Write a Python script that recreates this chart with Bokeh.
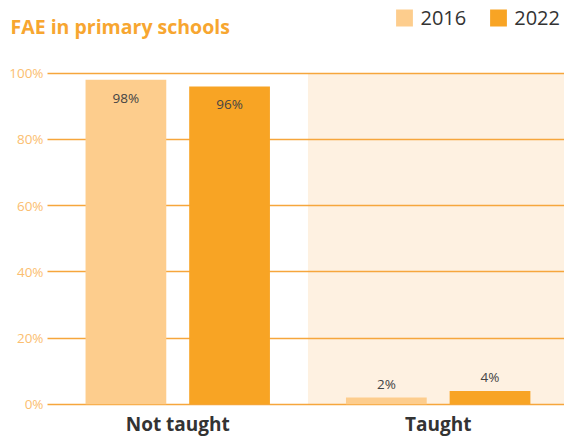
from bokeh.plotting import figure
from bokeh.models import Range1d, FixedTicker, ColumnDataSource, Legend, LegendItem
from bokeh.core.properties import value
from bokeh.embed import file_html
from bokeh.resources import INLINE

title = "FAE in primary schools"
categories = ["Not taught", "Taught"]
years = ["2016", "2022"]
values_2016 = [98, 2]
values_2022 = [96, 4]
y_ticks = [0, 20, 40, 60, 80, 100]
y_tick_labels = ["0%", "20%", "40%", "60%", "80%", "100%"]

C_LIGHT = "#FDCD8D"
C_DARK = "#F8A424"
C_SHADE = "#FEF1E1"
C_GRID = "#F6A63C"
C_TICK = "#FBBE70"
C_TITLE = "#F7A630"
C_TEXT = "#333333"
FONT = "Open Sans"

X_START, X_END = -0.1805, 1.985
Y_START, Y_TOP = -1.6, 121.96

p = figure(width=564, height=439, output_backend="svg", toolbar_location=None,
           x_range=Range1d(X_START, X_END), y_range=Range1d(Y_START, Y_TOP),
           min_border_left=0, min_border_right=0, min_border_top=0, min_border_bottom=25)
p.outline_line_color = None
p.background_fill_color = "white"
p.yaxis.visible = False

centers = [i + 0.5 for i in range(len(categories))]

# shading behind "Taught"
shade = p.vbar(x=[centers[1]], top=[100], bottom=[0], width=1.0,
               fill_color=C_SHADE, line_color=None)
shade.level = "image"

offset = 0.199
bw = 0.31
src16 = ColumnDataSource(dict(x=[c - offset for c in centers], top=values_2016,
                              lab=[f"{v}%" for v in values_2016]))
src22 = ColumnDataSource(dict(x=[c + offset for c in centers], top=values_2022,
                              lab=[f"{v}%" for v in values_2022]))
r16 = p.vbar(x="x", top="top", width=bw, source=src16, fill_color=C_LIGHT, line_color=None)
r22 = p.vbar(x="x", top="top", width=bw, source=src22, fill_color=C_DARK, line_color=None)

for src in (src16, src22):
    d = src.data
    src.data["yoff"] = [18 if v > 50 else -14 for v in d["top"]]
    p.text(x="x", y="top", text="lab", source=src, y_offset="yoff",
           text_align="center", text_baseline="middle",
           text_font=value(FONT), text_font_size="13.5px", text_color="#444444")

# y tick labels
p.text(x=[0] * len(y_ticks), y=y_ticks, text=y_tick_labels, x_offset=-4,
       text_align="right", text_baseline="middle", text_font=value(FONT),
       text_font_size="13.5px", text_color=C_TICK)

# title
p.text(x=[X_START], y=[Y_TOP], text=[title], x_offset=10, y_offset=26,
       text_align="left", text_baseline="alphabetic", text_font=value(FONT),
       text_font_size="19.5px", text_font_style="bold", text_color=C_TITLE)

# x axis
p.xaxis.ticker = FixedTicker(ticks=centers)
p.xaxis.major_label_overrides = {c: n for c, n in zip(centers, categories)}
p.xaxis.axis_line_color = None
p.xaxis.major_tick_line_color = None
p.xaxis.minor_tick_line_color = None
p.xaxis.major_tick_out = 0
p.xaxis.minor_tick_out = 0
p.xaxis.major_label_standoff = 1
p.xaxis.major_label_text_font = FONT
p.xaxis.major_label_text_font_size = "19px"
p.xaxis.major_label_text_font_style = "bold"
p.xaxis.major_label_text_color = C_TEXT

p.xgrid.visible = False
p.ygrid.ticker = FixedTicker(ticks=y_ticks)
p.ygrid.cross_bounds = (0, X_END)
p.ygrid.grid_line_color = C_GRID
p.ygrid.grid_line_width = 1.6

legend = Legend(items=[LegendItem(label=years[0], renderers=[r16]),
                       LegendItem(label=years[1], renderers=[r22])],
                location="top_right", orientation="horizontal",
                glyph_width=21, glyph_height=21, label_standoff=6, spacing=21,
                padding=0, margin=4, background_fill_alpha=0, border_line_color=None,
                label_text_font=FONT, label_text_font_size="20px",
                label_text_color=C_TEXT)
p.add_layout(legend)

open("out.html", "w").write(file_html(p, INLINE))
